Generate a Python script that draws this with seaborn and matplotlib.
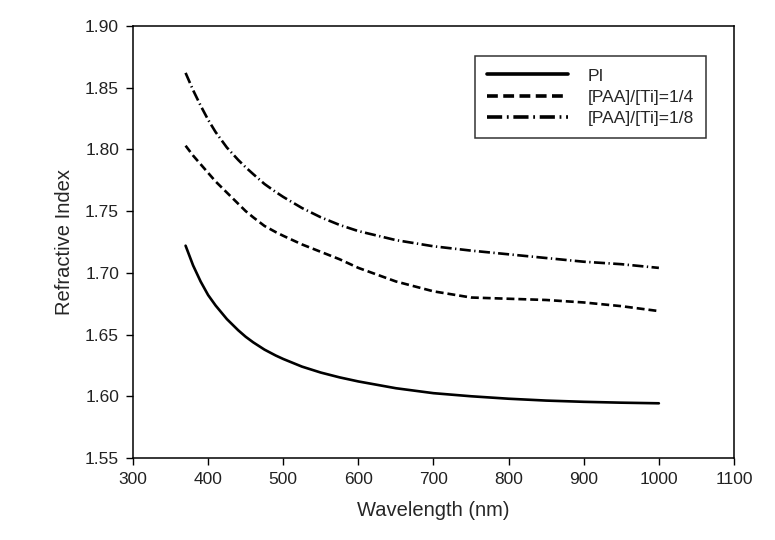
import seaborn as sns
import matplotlib.pyplot as plt
import pandas as pd

# dados
comprimento_onda = [370, 380, 390, 400, 410, 425, 440, 450, 460, 475, 490, 500,
                    525, 550, 575, 600, 650, 700, 750, 800, 850, 900, 950, 1000]
indice_pi = [1.722, 1.706, 1.693, 1.682, 1.6735, 1.6625, 1.6535, 1.6482, 1.6437, 1.6378, 1.633, 1.6302,
             1.624, 1.6192, 1.6153, 1.612, 1.6065, 1.6025, 1.600, 1.598, 1.5965, 1.5955, 1.5948, 1.5943]
indice_1_4 = [1.803, 1.795, 1.788, 1.781, 1.774, 1.765, 1.756, 1.750, 1.745, 1.738, 1.733, 1.730,
              1.723, 1.717, 1.711, 1.704, 1.693, 1.685, 1.680, 1.679, 1.678, 1.676, 1.673, 1.669]
indice_1_8 = [1.862, 1.848, 1.8355, 1.824, 1.814, 1.8015, 1.7915, 1.7855, 1.780, 1.772, 1.7655, 1.7615,
              1.7525, 1.745, 1.7388, 1.7338, 1.7265, 1.7215, 1.718, 1.715, 1.712, 1.709, 1.707, 1.704]

nomes = ["PI", "[PAA]/[Ti]=1/4", "[PAA]/[Ti]=1/8"]
estilos = ["-", (0, (3, 1.5)), (0, (4.2, 1.3, 0.5, 1.3))]

n = len(comprimento_onda)
dados = pd.DataFrame({
    "x": comprimento_onda * 3,
    "y": indice_pi + indice_1_4 + indice_1_8,
    "serie": [nomes[0]] * n + [nomes[1]] * n + [nomes[2]] * n,
})

sns.set_style("white")
plt.rcParams['font.family'] = ['Liberation Sans', 'DejaVu Sans']

fig = plt.figure(figsize=(7.75, 5.4), dpi=100)
ax = fig.add_axes([0.1716, 0.1519, 0.7755, 0.8])

for nome, estilo in zip(nomes, estilos):
    sns.lineplot(data=dados[dados["serie"] == nome], x="x", y="y", ax=ax,
                 color="black", linewidth=1.9, linestyle=estilo, label=nome)

ax.set_xlim(300, 1100)
ax.set_ylim(1.55, 1.90)
ax.set_xticks(range(300, 1101, 100))
ax.set_yticks([1.55, 1.60, 1.65, 1.70, 1.75, 1.80, 1.85, 1.90])
ax.set_yticklabels([f"{v:.2f}" for v in ax.get_yticks()])
ax.tick_params(axis="both", direction="out", length=5, width=1, color="black",
               labelsize=12.5, bottom=True, left=True, top=False, right=False,
               colors="#222222", pad=5)
for s in ax.spines.values():
    s.set_color("black")
    s.set_linewidth(1.1)

ax.set_xlabel("Wavelength (nm)", fontsize=14.5, labelpad=10)
ax.set_ylabel("Refractive Index", fontsize=14.5, labelpad=8)

leg = ax.legend(loc="upper right", bbox_to_anchor=(0.953, 0.93), borderaxespad=0,
                frameon=True, fancybox=False, edgecolor="black", fontsize=12.5,
                handlelength=4.7, handletextpad=1.1, labelspacing=0.36,
                borderpad=0.7)
leg.get_frame().set_linewidth(1.1)
for linha in leg.get_lines():
    linha.set_linewidth(2.6)

fig.savefig("out.png", dpi=100)
